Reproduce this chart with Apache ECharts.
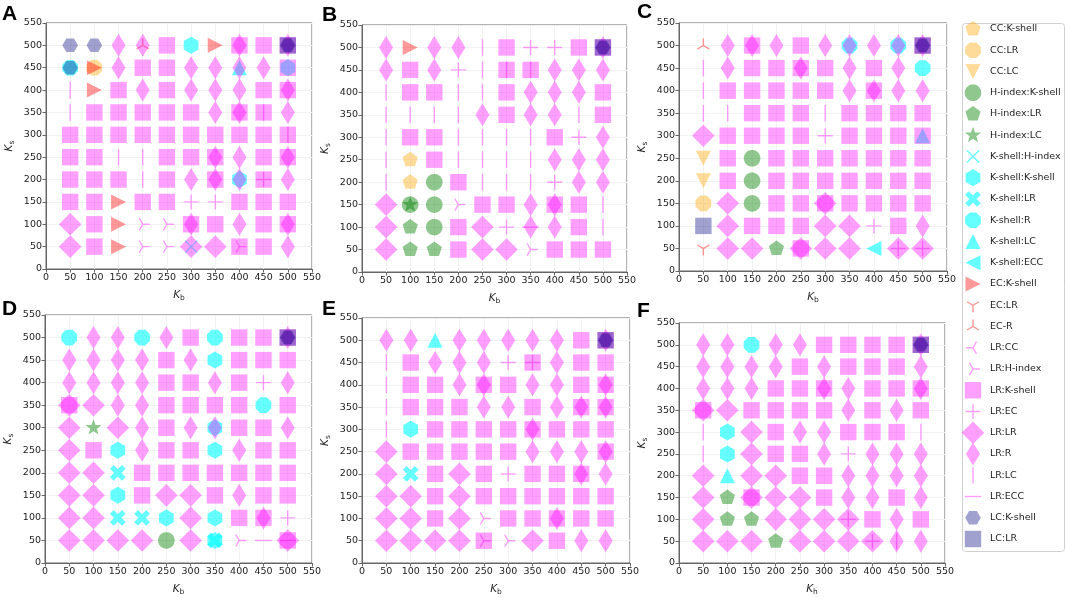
<!DOCTYPE html>
<html>
<head>
<meta charset="utf-8">
<script src="https://cdn.jsdelivr.net/npm/echarts@6/dist/echarts.min.js"></script>
<style>
  html, body { margin: 0; background: #fff; }
  #chart { width: 1065px; height: 597px; }
</style>
</head>
<body>
<div id="chart"></div>
<script>
// grid positions (Kb along x, Ks along y)
const kbValues = [50, 100, 150, 200, 250, 300, 350, 400, 450, 500];
const ksValues = [500, 450, 400, 350, 300, 250, 200, 150, 100, 50]; // row order, top to bottom
const axisTicks = [0, 50, 100, 150, 200, 250, 300, 350, 400, 450, 500, 550];

const legendNames = ['CC:K-shell', 'CC:LR', 'CC:LC', 'H-index:K-shell', 'H-index:LR', 'H-index:LC',
  'K-shell:H-index', 'K-shell:K-shell', 'K-shell:LR', 'K-shell:R', 'K-shell:LC', 'K-shell:ECC',
  'EC:K-shell', 'EC:LR', 'EC-R', 'LR:CC', 'LR:H-index', 'LR:K-shell', 'LR:EC', 'LR:LR', 'LR:R',
  'LR:LC', 'LR:ECC', 'LC:K-shell', 'LC:LR'];
const legendCodes = ['a', 'b', 'v', 'g', 'p', 's', 'x', 'k', 'X', 'o', 't', 'e',
  'T', 'Y', 'U', 'c', 'h', 'S', 'P', 'D', 'R', 'V', 'H', 'Q', 'q'];

// one string per Ks row, one cell per Kb column, '+' joins overlapping markers
const panelA = [
  'Q Q R R+U S k T S+R S S+R+Q+q',
  'o+Q b+T R S S R R t+R R k+S',
  'V T S R S R R R S S+R',
  'V S S S S S R S+R S+V R',
  'S S S S S S S S S S+V',
  'S S V V S S S+R R S S+R',
  'S S S V S R S+R k+R S+P R',
  'S S T S S P P S S S',
  'D S T h h S+R S R S S+R',
  'D S T h h x+D D S+h S R'
];
const panelB = [
  'R T R R V S P P S S+R+Q+q',
  'R S R P V S+V S+V R R R',
  'V S S V V S R R R S',
  'V V V V R S R R V S',
  'V S S V V V V S P R',
  'V a S V V V V R R R',
  'V a g S V V V P R R',
  'D g+s g h S S R S+R S V',
  'D p g S D P R+H R S V',
  'D p p S D D h S S S'
];
const panelC = [
  'U R S+R R S R o+R R o+R S+R+Q+q',
  'V R S S S+R S R S R o',
  'V S S S S S R S+R R R',
  'V V S S S V S S S S',
  'D S S S S P S S S t+S',
  'v S g S S S S S S S',
  'v S g S S S S S S S',
  'b D g S S S+D S S S S',
  'q D S S S D D P S R',
  'Y D D p S+D D D e D+P D+P'
];
const panelD = [
  'o R R o R S o S S S+R+Q+q',
  'R R R R S R k S S S',
  'R R R R S S R S P R',
  'S+D D R R S S S S o S',
  'D s D R S R k+R S S R',
  'D S k R S S k R S S',
  'D D X S S S S S S S',
  'D D k S D D S R S S',
  'D D X X k D k S S+R P',
  'D D D D g D k+X h H S+D+H'
];
const panelE = [
  'R R t R R R R R S S+R+Q+q',
  'V S R R R P S+P R S S',
  'V S S R S+R S R R S S+R',
  'V S S S R R S R S+R S+R',
  'V k S S S S S+R S S S',
  'D S S S S S R R R S+R',
  'D X S D S P S S S+R R',
  'D D S D S S S S S S',
  'D D S D h S S S+R S S',
  'D D D D S+h h D S R R'
];
const panelF = [
  'R R o R R S S S S S+R+Q+q',
  'R R R R S R S S S R',
  'R R R S S S+R R S S S+R',
  'S+D D S S S S R S R S',
  'V k D S R R S S S V',
  'V k D S S R P R R R',
  'D t D D S S R R R R',
  'D p S+D D D S R R S R',
  'D p p D D D D+P S R S',
  'D D D p D D D D+P R+V R'
];
const panels = [panelA, panelB, panelC, panelD, panelE, panelF];
const panelLetters = ['A', 'B', 'C', 'D', 'E', 'F'];
const xSubs = ['b', 'b', 'b', 'b', 'b', 'h'];

// ---- marker shapes, in pixels, padded to a 24x24 box ----
function poly(pts) {
  return pts.map((p, i) => (i ? 'L' : 'M') + p[0].toFixed(2) + ' ' + p[1].toFixed(2)).join('') + 'Z';
}
function ngon(n, r, rotDeg) {
  const pts = [];
  for (let i = 0; i < n; i++) {
    const a = (rotDeg + 360 * i / n) * Math.PI / 180;
    pts.push([r * Math.cos(a), r * Math.sin(a)]);
  }
  return poly(pts);
}
function star(ro, ri) {
  const pts = [];
  for (let i = 0; i < 10; i++) {
    const a = (-90 + 36 * i) * Math.PI / 180;
    const r = i % 2 ? ri : ro;
    pts.push([r * Math.cos(a), r * Math.sin(a)]);
  }
  return poly(pts);
}
function bars(angles, len, hw) {
  return angles.map(deg => {
    const a = deg * Math.PI / 180;
    const dx = Math.cos(a), dy = Math.sin(a), nx = -dy, ny = dx;
    return poly([
      [-hw * dx + hw * nx, -hw * dy + hw * ny],
      [len * dx + hw * nx, len * dy + hw * ny],
      [len * dx - hw * nx, len * dy - hw * ny],
      [-hw * dx - hw * nx, -hw * dy - hw * ny]
    ]);
  }).join('');
}
function rect(hx, hy) {
  return poly([[-hx, -hy], [hx, -hy], [hx, hy], [-hx, hy]]);
}
const LW = 0.7;
const shapes = {
  a: ngon(5, 8, -90),
  b: ngon(8, 8.5, 22.5),
  v: poly([[-7.5, -7.5], [7.5, -7.5], [0, 7.5]]),
  g: ngon(40, 8.3, 0),
  p: ngon(5, 8, -90),
  s: star(8.5, 3.5),
  x: bars([45, 135, 225, 315], 8.5, LW),
  k: ngon(6, 8.5, -90),
  X: bars([45, 135, 225, 315], 8.5, 2.6),
  o: ngon(8, 8.5, 22.5),
  t: poly([[0, -7.5], [7.5, 7.5], [-7.5, 7.5]]),
  e: poly([[-7.5, 0], [7.5, -7.5], [7.5, 7.5]]),
  T: poly([[7.5, 0], [-7.5, -7.5], [-7.5, 7.5]]),
  Y: bars([90, 210, 330], 7, LW),
  U: bars([270, 30, 150], 7, LW),
  c: bars([180, 60, 300], 7, LW),
  h: bars([0, 120, 240], 7, LW),
  S: rect(8.2, 8.2),
  P: bars([0, 90, 180, 270], 7.5, LW),
  D: poly([[0, -11.3], [11.3, 0], [0, 11.3], [-11.3, 0]]),
  R: poly([[0, -11.5], [7, 0], [0, 11.5], [-7, 0]]),
  V: rect(LW, 8.3),
  H: rect(8.3, LW),
  Q: ngon(6, 7.8, 0),
  q: rect(8.2, 8.2)
};
const PAD = 'M-12 -12M12 12';
const ORANGE = 'rgba(255,165,0,0.5)', GREEN = 'rgba(0,128,0,0.55)', CYAN = 'rgba(0,255,255,0.75)';
const RED = 'rgba(255,0,0,0.5)', MAGENTA = 'rgba(255,0,255,0.47)', NAVY = 'rgba(0,0,128,0.46)';
const colors = {
  a: ORANGE, b: ORANGE, v: ORANGE, g: GREEN, p: GREEN, s: GREEN,
  x: CYAN, k: CYAN, X: CYAN, o: CYAN, t: CYAN, e: CYAN,
  T: RED, Y: RED, U: RED,
  c: MAGENTA, h: MAGENTA, S: MAGENTA, P: MAGENTA, D: MAGENTA, R: MAGENTA, V: MAGENTA, H: MAGENTA,
  Q: NAVY, q: NAVY
};

const grids = [
  { left: 46, top: 23, width: 266, height: 246 },
  { left: 362, top: 25, width: 265, height: 247 },
  { left: 679, top: 23, width: 268, height: 248 },
  { left: 45, top: 315, width: 267, height: 248 },
  { left: 362, top: 318, width: 268, height: 247 },
  { left: 679, top: 323, width: 266, height: 245 }
];
const letterPos = [[2, 4], [322, 5], [637, 2], [2, 299], [322, 299], [637, 301]];

const FONT = 'DejaVu Sans';
const nameRich = {
  i: { fontStyle: 'italic', fontSize: 10.5, fontFamily: FONT, color: '#222', lineHeight: 14 },
  sub: { fontSize: 7.5, fontFamily: FONT, color: '#222', verticalAlign: 'bottom', lineHeight: 9 }
};

const xAxes = [], yAxes = [], series = [];
panels.forEach((rows, pi) => {
  const axisCommon = {
    type: 'value', gridIndex: pi, min: axisTicks[0], max: axisTicks[axisTicks.length - 1], interval: 50,
    axisLine: { show: true, lineStyle: { color: '#666' } },
    axisTick: { show: true, length: 3.5, lineStyle: { color: '#666' } },
    axisLabel: { fontSize: 9.5, fontFamily: FONT, color: '#222', margin: 4 },
    splitLine: { show: true, lineStyle: { color: '#f2f2f2' } },
    nameLocation: 'middle',
    nameTextStyle: { rich: nameRich }
  };
  xAxes.push(Object.assign({}, axisCommon, { name: '{i|K}{sub|' + xSubs[pi] + '}', nameGap: 19 }));
  yAxes.push(Object.assign({}, axisCommon, { name: '{i|K}{sub|s}', nameGap: 30, nameRotate: 90 }));

  const buckets = {};
  legendCodes.forEach(c => { buckets[c] = []; });
  rows.forEach((row, ri) => {
    row.split(' ').forEach((cell, ci) => {
      cell.split('+').forEach(code => {
        buckets[code].push([kbValues[ci], ksValues[ri]]);
      });
    });
  });
  legendCodes.forEach((code, li) => {
    series.push({
      type: 'scatter', name: legendNames[li], xAxisIndex: pi, yAxisIndex: pi,
      symbol: 'path://' + PAD + shapes[code], symbolSize: 24,
      itemStyle: { color: colors[code] },
      silent: true,
      data: buckets[code]
    });
  });
});

const chart = echarts.init(document.getElementById('chart'));
chart.setOption({
  animation: false,
  grid: grids.map(g => Object.assign({ show: true, borderColor: '#666', borderWidth: 1, containLabel: false }, g)),
  xAxis: xAxes,
  yAxis: yAxes,
  legend: {
    orient: 'vertical', left: 961, top: 17, padding: 0,
    itemWidth: 24, itemHeight: 24, itemGap: -2.75,
    selectedMode: false,
    data: legendNames,
    textStyle: { fontSize: 9.5, fontFamily: FONT, color: '#222' }
  },
  graphic: [
    { type: 'rect', left: 960, top: 21, shape: { width: 102, height: 528, r: 3 },
      style: { fill: 'none', stroke: '#d0d0d0', lineWidth: 1 }, z: -10 }
  ].concat(panelLetters.map((t, i) => ({
    type: 'text', left: letterPos[i][0], top: letterPos[i][1],
    style: { text: t, font: 'bold 21px "Liberation Sans"', fill: '#000' }
  }))),
  series: series
});
</script>
</body>
</html>
